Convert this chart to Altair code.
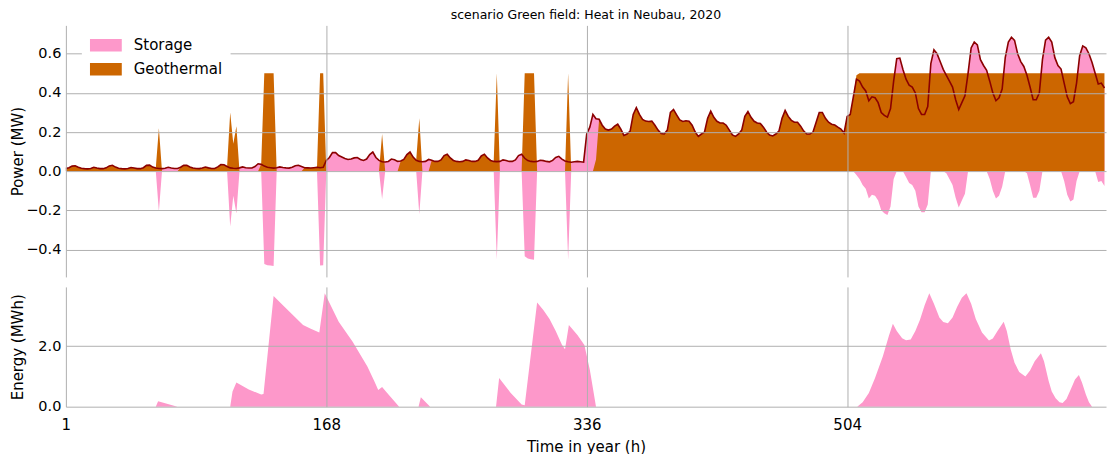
import altair as alt
import pandas as pd

TITLE = "scenario Green field: Heat in Neubau, 2020"
SERIES = ["Storage", "Geothermal"]
COLORS = ["#fd98ca", "#cc6600"]
LINE_COLOR = "#8b0000"
TICK_HOURS = [0, 168, 336, 504]
POWER_TICKS = [-0.4, -0.2, 0.0, 0.2, 0.4, 0.6]
ENERGY_TICKS = [0.0, 2.0]
STEP_H = 2  # sampling step inside each day (hours)

# Heat demand (MW): one row per day, values every 2 h (hours 0, 2, ..., 22)
DEMAND = [
    [0.014, 0.018, 0.026, 0.028, 0.020, 0.015, 0.013, 0.012, 0.014, 0.020, 0.016, 0.013],
    [0.013, 0.017, 0.027, 0.030, 0.021, 0.015, 0.013, 0.012, 0.014, 0.019, 0.016, 0.013],
    [0.013, 0.018, 0.030, 0.031, 0.021, 0.016, 0.014, 0.013, 0.015, 0.020, 0.016, 0.014],
    [0.014, 0.020, 0.030, 0.030, 0.022, 0.016, 0.014, 0.013, 0.016, 0.021, 0.017, 0.014],
    [0.014, 0.022, 0.034, 0.033, 0.024, 0.017, 0.015, 0.014, 0.017, 0.022, 0.018, 0.016],
    [0.016, 0.024, 0.038, 0.035, 0.026, 0.020, 0.018, 0.016, 0.018, 0.022, 0.019, 0.017],
    [0.016, 0.020, 0.028, 0.030, 0.024, 0.018, 0.017, 0.016, 0.018, 0.020, 0.018, 0.020],
    [0.055, 0.070, 0.095, 0.095, 0.080, 0.073, 0.065, 0.060, 0.062, 0.068, 0.070, 0.060],
    [0.055, 0.062, 0.085, 0.098, 0.070, 0.055, 0.048, 0.047, 0.050, 0.062, 0.058, 0.050],
    [0.052, 0.060, 0.085, 0.098, 0.072, 0.056, 0.050, 0.048, 0.050, 0.060, 0.056, 0.050],
    [0.050, 0.058, 0.080, 0.087, 0.068, 0.055, 0.050, 0.048, 0.050, 0.058, 0.055, 0.050],
    [0.050, 0.056, 0.078, 0.087, 0.068, 0.055, 0.050, 0.049, 0.050, 0.058, 0.055, 0.050],
    [0.050, 0.058, 0.080, 0.087, 0.066, 0.054, 0.050, 0.048, 0.050, 0.056, 0.054, 0.050],
    [0.048, 0.055, 0.070, 0.076, 0.062, 0.052, 0.048, 0.046, 0.048, 0.050, 0.048, 0.046],
    [0.190, 0.225, 0.290, 0.268, 0.265, 0.235, 0.215, 0.210, 0.215, 0.230, 0.240, 0.215],
    [0.183, 0.190, 0.205, 0.290, 0.325, 0.290, 0.265, 0.256, 0.254, 0.256, 0.235, 0.210],
    [0.192, 0.190, 0.210, 0.300, 0.315, 0.288, 0.262, 0.254, 0.258, 0.255, 0.235, 0.200],
    [0.178, 0.190, 0.200, 0.270, 0.307, 0.275, 0.255, 0.246, 0.246, 0.235, 0.210, 0.185],
    [0.178, 0.190, 0.210, 0.280, 0.305, 0.275, 0.255, 0.246, 0.244, 0.225, 0.200, 0.185],
    [0.180, 0.190, 0.205, 0.270, 0.310, 0.280, 0.260, 0.250, 0.250, 0.230, 0.205, 0.190],
    [0.190, 0.200, 0.250, 0.300, 0.300, 0.270, 0.250, 0.240, 0.236, 0.225, 0.215, 0.195],
    [0.280, 0.290, 0.380, 0.470, 0.460, 0.430, 0.410, 0.360, 0.380, 0.375, 0.350, 0.300],
    [0.285, 0.276, 0.320, 0.460, 0.575, 0.578, 0.520, 0.470, 0.440, 0.430, 0.400, 0.320],
    [0.290, 0.290, 0.330, 0.550, 0.620, 0.600, 0.560, 0.520, 0.490, 0.460, 0.430, 0.365],
    [0.315, 0.350, 0.385, 0.500, 0.630, 0.660, 0.645, 0.570, 0.540, 0.515, 0.460, 0.400],
    [0.360, 0.375, 0.420, 0.580, 0.660, 0.684, 0.668, 0.600, 0.560, 0.535, 0.490, 0.430],
    [0.365, 0.365, 0.400, 0.570, 0.670, 0.684, 0.660, 0.580, 0.540, 0.522, 0.450, 0.380],
    [0.345, 0.355, 0.450, 0.590, 0.640, 0.630, 0.600, 0.555, 0.500, 0.445, 0.450, 0.425],
]

# Geothermal output (MW), same sampling; days where it covers the full demand reuse that row
GEOTHERMAL = [
    DEMAND[0],
    DEMAND[1],
    [0.013, 0.018, 0.030, 0.031, 0.021, 0.016, 0.220, 0, 0, 0, 0, 0],
    [0, 0.020, 0.030, 0.030, 0.022, 0.016, 0.014, 0.013, 0.016, 0.021, 0.017, 0.014],
    [0.014, 0.022, 0.034, 0.033, 0.024, 0.300, 0.140, 0.230, 0, 0, 0, 0],
    [0, 0, 0, 0.035, 0.500, 0.500, 0.500, 0.500, 0, 0, 0, 0],
    [0, 0, 0, 0, 0, 0.018, 0.017, 0.016, 0.018, 0.020, 0.500, 0.500],
    [0, 0, 0, 0, 0, 0, 0, 0, 0, 0, 0, 0],
    [0, 0, 0, 0, 0, 0, 0.190, 0, 0, 0, 0, 0],
    [0.052, 0.060, 0.085, 0.098, 0.072, 0.056, 0.270, 0, 0, 0, 0.056, 0.050],
    DEMAND[10],
    [0.050, 0.056, 0.078, 0.087, 0.068, 0.055, 0.050, 0.500, 0, 0, 0, 0],
    [0, 0, 0, 0, 0.500, 0.500, 0.500, 0.500, 0, 0, 0, 0],
    [0, 0, 0, 0, 0, 0, 0.500, 0, 0, 0, 0, 0],
    [0, 0, 0, 0.060, 0.265, 0.235, 0.215, 0.210, 0.215, 0.230, 0.240, 0.215],
    DEMAND[15],
    DEMAND[16],
    DEMAND[17],
    DEMAND[18],
    DEMAND[19],
    DEMAND[20],
    [0.280, 0.290, 0.380, 0.490, 0.500, 0.500, 0.500, 0.500, 0.500, 0.500, 0.500, 0.500],
    [0.500] * 12,
    [0.500] * 12,
    [0.500] * 12,
    [0.500] * 12,
    [0.500] * 12,
    [0.500] * 12,
]

# Stored energy (MWh) at the listed hours
ENERGY_HOURS = [
    0, 58, 59.5, 72, 106, 107.5, 110, 118, 126, 127.5, 134, 141, 153, 158, 163.5,
    167, 176, 185, 194.5, 199, 201.5, 204, 207, 215, 227.5, 229, 235, 277.5, 279.5,
    287, 294, 296, 304, 308, 312, 316, 320, 322, 324.5, 330, 334.5, 338, 342,
    510.5, 514, 518, 522, 527, 531, 533.5, 536, 539.5, 542, 545, 548, 551, 554,
    557, 560, 563.5, 566, 569, 572, 575, 578, 581, 584, 587, 591, 595.5, 598, 601,
    605, 607, 609.5, 612, 615, 619, 622, 625, 629, 631, 634, 636, 638.5, 641, 643,
    645.5, 648.5, 651, 653.5, 655.5, 658, 660, 662, 671,
]
ENERGY_MWH = [
    0, 0, 0.18, 0, 0, 0.5, 0.8, 0.57, 0.4, 0.42, 3.66, 3.3, 2.7, 2.58, 2.45,
    3.75, 2.81, 2.15, 1.33, 0.84, 0.55, 0.65, 0.47, 0, 0, 0.31, 0, 0, 0.95,
    0.45, 0.07, 0.05, 3.44, 3.2, 2.9, 2.5, 2.05, 1.9, 2.7, 2.37, 2.04, 1.22, 0,
    0, 0.15, 0.45, 0.95, 1.66, 2.35, 2.74, 2.5, 2.26, 2.2, 2.22, 2.5, 2.87, 3.35,
    3.75, 3.4, 2.95, 2.8, 2.76, 2.95, 3.3, 3.6, 3.75, 3.4, 2.9, 2.45, 2.19, 2.25, 2.5,
    2.81, 2.5, 1.9, 1.45, 1.15, 1.0, 1.2, 1.5, 1.77, 1.5, 0.85, 0.5, 0.28, 0.15, 0.12,
    0.25, 0.6, 0.9, 1.05, 0.8, 0.4, 0.15, 0, 0,
]

hours = [24 * d + STEP_H * k for d in range(len(DEMAND)) for k in range(len(DEMAND[d]))]
power = pd.DataFrame({
    "hour": hours,
    "demand": [v for day in DEMAND for v in day],
    "geothermal": [v for day in GEOTHERMAL for v in day],
})
# storage charging shows up as the negative part of demand minus geothermal output
power["charge"] = (power["demand"] - power["geothermal"]).clip(upper=0)

energy = pd.DataFrame({"hour": ENERGY_HOURS, "energy": ENERGY_MWH})

FONT = "DejaVu Sans"
PLOT_W = 1042
x_scale = alt.Scale(domain=[0, 671], nice=False, zero=False)
color_scale = alt.Scale(domain=SERIES, range=COLORS)
power_scale = alt.Scale(domain=[-0.54, 0.745], nice=False, zero=False)
energy_scale = alt.Scale(domain=[0, 3.96], nice=False, zero=False)

x_top = alt.X(
    "hour:Q", scale=x_scale,
    axis=alt.Axis(values=TICK_HOURS, labels=False, ticks=False, domain=False,
                  grid=True, title=None, zindex=1),
)


def y_axis(title, values):
    return alt.Axis(
        values=values, format=".1f", title=title, grid=True, domain=False,
        ticks=False, labelFontSize=14.5, labelPadding=5, titleFontSize=15,
        titlePadding=4, minExtent=36, maxExtent=36, zindex=1,
    )


legend = alt.Legend(
    title=None, orient="none", legendX=16, legendY=0,
    symbolType="M-1,-0.39H1V0.39H-1Z", symbolSize=1024, symbolStrokeWidth=0,
    symbolOpacity=1, labelFontSize=15, labelFont=FONT, labelColor="black",
    labelOffset=12, fillColor="white", padding=8, rowPadding=0, clipHeight=24,
    zindex=2,
)


def power_y(field):
    return alt.Y(f"{field}:Q", scale=power_scale, axis=y_axis("Power (MW)", POWER_TICKS))


def series_color():
    return alt.Color("series:N", scale=color_scale, legend=legend)


base = alt.Chart(power)

discharge = base.mark_area(opacity=1).transform_calculate(series="'Storage'").encode(
    x=x_top, y=power_y("demand"), y2=alt.datum(0), color=series_color(),
)
geothermal = base.mark_area(opacity=1).transform_calculate(series="'Geothermal'").encode(
    x=x_top, y=power_y("geothermal"), y2=alt.datum(0), color=series_color(),
)
charge = base.mark_area(opacity=1).transform_calculate(series="'Storage'").encode(
    x=x_top, y=power_y("charge"), y2=alt.datum(0), color=series_color(),
)
demand_line = base.mark_line(color=LINE_COLOR, strokeWidth=1.6).encode(
    x=x_top, y=power_y("demand"),
)

top = alt.layer(discharge, geothermal, charge, demand_line).properties(
    width=PLOT_W, height=252,
    title=alt.TitleParams(TITLE, fontSize=12.5, fontWeight="normal", font=FONT,
                          color="black", anchor="middle", frame="group", offset=4),
)

bottom = alt.Chart(energy).mark_area(color=COLORS[0], opacity=1).encode(
    x=alt.X(
        "hour:Q", scale=x_scale,
        axis=alt.Axis(values=TICK_HOURS, labelExpr="datum.value == 0 ? '1' : datum.label",
                      grid=True, domain=False, ticks=False, tickSize=0, labelPadding=11,
                      labelFlush=False, labelFontSize=15, title="Time in year (h)",
                      titleFontSize=15, titlePadding=7, zindex=1),
    ),
    y=alt.Y("energy:Q", scale=energy_scale, axis=y_axis("Energy (MWh)", ENERGY_TICKS)),
    y2=alt.datum(0),
).properties(width=PLOT_W, height=120)

chart = (
    alt.vconcat(top, bottom, spacing=10)
    .resolve_scale(x="independent", y="independent")
    .properties(padding={"left": 11, "top": 8, "right": 1, "bottom": 0})
    .configure(font=FONT)
    .configure_view(stroke=None)
    .configure_axis(
        labelColor="black", titleColor="black", gridColor="#b0b0b0", gridWidth=1,
        labelFont=FONT, titleFont=FONT, titleFontWeight="normal",
    )
)

chart.save("out.html", embed_options={"renderer": "svg", "actions": False})
